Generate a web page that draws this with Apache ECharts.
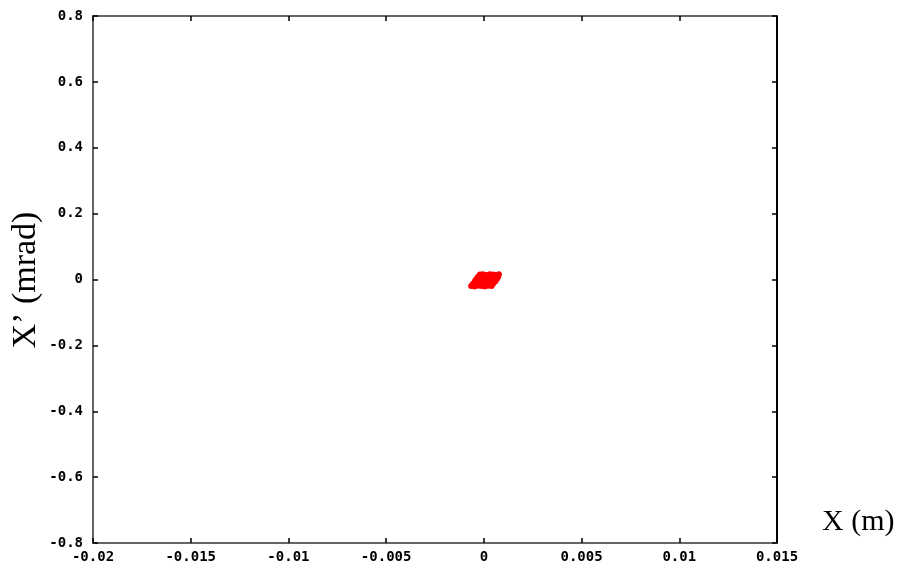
<!DOCTYPE html>
<html>
<head>
<meta charset="utf-8">
<script src="https://cdn.jsdelivr.net/npm/echarts@6/dist/echarts.min.js"></script>
<style>html,body{margin:0;padding:0;background:#fff}#c{width:902px;height:566px}</style>
</head>
<body>
<div id="c"></div>
<script>
var xTickLabels = ['-0.02','-0.015','-0.01','-0.005','0','0.005','0.01','0.015'];
var yTickLabels = ['-0.8','-0.6','-0.4','-0.2','0','0.2','0.4','0.6','0.8'];
var xTitle = 'X (m)';
var yTitle = 'X\u2019 (mrad)';
var beamX = [
  -0.00065,-0.00048,-0.0003,-0.00012,0.00005,0.00022,0.0004,
  -0.00056,-0.0004,-0.00021,-0.00003,0.00014,0.0003,0.00047,
  -0.00047,-0.0003,-0.00013,0.00005,0.00022,0.0004,0.00058,
  -0.0004,-0.00022,-0.00004,0.00013,0.0003,0.00048,0.00066,
  -0.0003,-0.00013,0.00005,0.00021,0.00039,0.00056,0.00074,
  -0.0002,-0.00005,0.00013,0.0003,0.00047,0.00063,0.00077
];
var beamY = [
  -0.020,-0.021,-0.019,-0.020,-0.021,-0.019,-0.020,
  -0.013,-0.012,-0.014,-0.013,-0.012,-0.014,-0.013,
  -0.006,-0.005,-0.007,-0.006,-0.005,-0.007,-0.006,
  0.001,0.002,0.000,0.001,0.002,0.000,0.001,
  0.008,0.009,0.007,0.008,0.009,0.007,0.008,
  0.015,0.016,0.014,0.016,0.015,0.014,0.016
];
var pts = beamX.map(function(x,i){return [x, beamY[i]];});
function lab(arr, min, step){ return function(v){ var i = Math.round((v-min)/step); return arr[i] !== undefined ? arr[i] : ''; }; }
var chart = echarts.init(document.getElementById('c'));
var tickFont = {fontFamily:'DejaVu Sans Mono', fontWeight:'bold', fontSize:14, color:'#000'};
function axLine(c){ return {onZero:false, lineStyle:{color:c, width:2}}; }
var tick = {inside:true, length:5, lineStyle:{color:'#000', width:1.5}};
chart.setOption({
  animation:false,
  backgroundColor:'#fff',
  grid:{left:93, top:16, right:125, bottom:23, containLabel:false},
  xAxis:[
    {type:'value', min:-0.02, max:0.015, interval:0.005, position:'bottom',
     axisLine:axLine('#666'), axisTick:tick,
     axisLabel:Object.assign({margin:7, formatter:lab(xTickLabels,-0.02,0.005)}, tickFont),
     splitLine:{show:false}},
    {type:'value', min:-0.02, max:0.015, interval:0.005, position:'top',
     axisLine:axLine('#666'), axisTick:tick,
     axisLabel:{show:false}, splitLine:{show:false}}
  ],
  yAxis:[
    {type:'value', min:-0.8, max:0.8, interval:0.2, position:'left',
     axisLine:axLine('#666'), axisTick:tick,
     axisLabel:Object.assign({margin:10, formatter:lab(yTickLabels,-0.8,0.2)}, tickFont),
     splitLine:{show:false}},
    {type:'value', min:-0.8, max:0.8, interval:0.2, position:'right',
     axisLine:axLine('#000'), axisTick:tick,
     axisLabel:{show:false}, splitLine:{show:false}}
  ],
  graphic:[
    {type:'text', x:822, y:537, style:{text:xTitle, font:'30px "Liberation Serif"', fill:'#000', verticalAlign:'bottom'}},
    {type:'text', x:26, y:280, rotation:Math.PI/2,
     style:{text:yTitle, font:'34px "Liberation Serif"', fill:'#000', align:'center', verticalAlign:'middle'}}
  ],
  series:[{type:'scatter', data:pts, symbol:'circle', symbolSize:6, xAxisIndex:0, yAxisIndex:0,
           itemStyle:{color:'#ff0000', opacity:1}}]
});
</script>
</body>
</html>
